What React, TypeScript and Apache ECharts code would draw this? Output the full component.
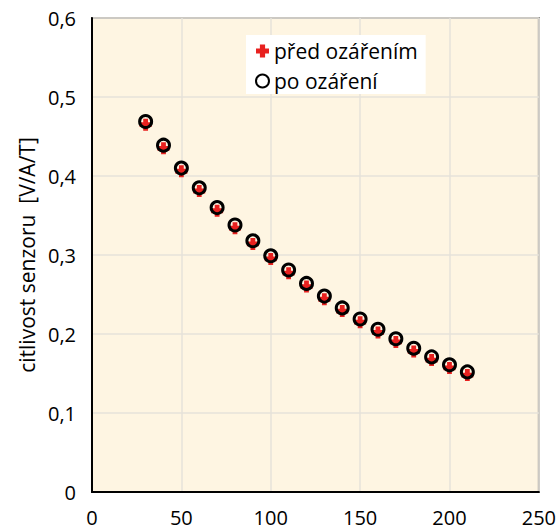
import React, { useEffect, useRef } from "react";
import * as echarts from "echarts";

const xValues = [30, 40, 50, 60, 70, 80, 90, 100, 110, 120, 130, 140, 150, 160, 170, 180, 190, 200, 210];
const beforeValues = [0.465, 0.435, 0.406, 0.381, 0.356, 0.334, 0.314, 0.295, 0.277, 0.260, 0.244, 0.229, 0.215, 0.202, 0.190, 0.178, 0.167, 0.157, 0.148];
const afterValues = [0.469, 0.439, 0.410, 0.385, 0.360, 0.338, 0.318, 0.299, 0.281, 0.264, 0.248, 0.233, 0.219, 0.206, 0.194, 0.182, 0.171, 0.161, 0.152];
const seriesNames = ["před ozářením", "po ozáření"];
const yAxisName = "citlivost senzoru  [V/A/T]";

const PLUS = "path://M3,0H7V3H10V7H7V10H3V7H0V3H3Z";
const FONT = "'Open Sans', 'DejaVu Sans', sans-serif";

export default function App() {
  const ref = useRef<HTMLDivElement>(null);
  useEffect(() => {
    if (!ref.current) return;
    const chart = echarts.init(ref.current, undefined, { renderer: "svg" });
    chart.setOption({
      animation: false,
      backgroundColor: "#ffffff",
      grid: {
        left: 92,
        right: 20,
        top: 18,
        bottom: 37,
        show: true,
        backgroundColor: "#fef5e2",
        borderColor: "#7f7f7f",
        borderWidth: 2,
      },
      legend: {
        left: 246,
        top: 35,
        orient: "vertical",
        backgroundColor: "#ffffff",
        padding: [4, 8, 1, 9],
        itemGap: 6,
        itemWidth: 13,
        itemHeight: 13,
        textStyle: { fontFamily: FONT, fontSize: 21, lineHeight: 24, color: "#000" },
        data: [
          { name: seriesNames[0], icon: PLUS },
          { name: seriesNames[1], icon: "circle" },
        ],
      },
      xAxis: {
        type: "value",
        min: 0,
        max: 250,
        interval: 50,
        axisLine: { show: true, lineStyle: { color: "#000", width: 2 } },
        axisTick: { show: false },
        splitLine: { show: true, lineStyle: { color: "#e6e2da", width: 1.5 } },
        axisLabel: { fontFamily: FONT, fontSize: 20, color: "#000", margin: 15 },
      },
      yAxis: {
        type: "value",
        min: 0,
        max: 0.6,
        interval: 0.1,
        name: yAxisName,
        nameLocation: "middle",
        nameGap: 54,
        nameTextStyle: { fontFamily: FONT, fontSize: 21, color: "#000" },
        axisLine: { show: true, lineStyle: { color: "#000", width: 2 } },
        axisTick: { show: false },
        splitLine: { show: true, lineStyle: { color: "#e6e2da", width: 1.5 } },
        axisLabel: {
          fontFamily: FONT,
          fontSize: 20,
          color: "#000",
          margin: 16,
          formatter: (v: number) => (v === 0 ? "0" : v.toFixed(1).replace(".", ",")),
        },
      },
      series: [
        {
          name: seriesNames[0],
          type: "scatter",
          symbol: PLUS,
          symbolSize: 12,
          itemStyle: { color: "#e8211f", opacity: 1 },
          data: xValues.map((x, i) => [x, beforeValues[i]]),
          z: 2,
        },
        {
          name: seriesNames[1],
          type: "scatter",
          symbol: "circle",
          symbolSize: 12,
          itemStyle: { color: "rgba(0,0,0,0)", borderColor: "#000", borderWidth: 3, opacity: 1 },
          data: xValues.map((x, i) => [x, afterValues[i]]),
          z: 3,
        },
      ],
    });
    return () => chart.dispose();
  }, []);
  return (
    <div
      ref={ref}
      style={{ position: "absolute", left: 0, top: 0, width: 559, height: 529 }}
    />
  );
}
